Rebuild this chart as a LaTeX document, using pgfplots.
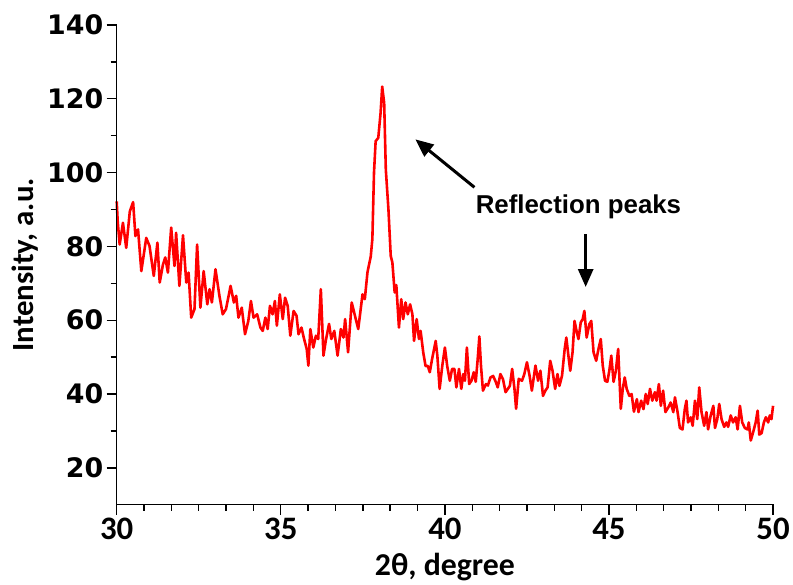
\documentclass[border=0pt]{standalone}
\usepackage{fontspec}
\usepackage{pgfplots}
\pgfplotsset{compat=1.18}
\usetikzlibrary{arrows.meta}
\setmainfont{Carlito}
\newfontfamily\dejavu{DejaVu Sans}
\newfontfamily\arialf{Liberation Sans}
\begin{document}
\begin{tikzpicture}
\begin{axis}[
  name=ax,
  scale only axis, width=658bp, height=481bp,
  xmin=30, xmax=50, ymin=10, ymax=140,
  axis line style={draw=none},
  xtick={30,35,...,50}, ytick={20,40,...,140},
  minor x tick num=5, minor y tick num=1,
  xtick pos=bottom, ytick pos=left,
  tick align=outside,
  major tick length=10bp, minor tick length=6bp,
  every tick/.style={line width=1.4bp,black},
  /pgf/number format/assume math mode=true,
  xticklabel style={font=\fontsize{33}{33}\selectfont\bfseries},
  yticklabel style={font=\dejavu\fontsize{27}{27}\selectfont\bfseries},
  xlabel={2θ, degree},
  ylabel={Intensity, a.u.},
  xlabel style={font=\fontsize{32}{32}\selectfont\bfseries, yshift=-6bp},
  ylabel style={font=\fontsize{31}{31}\selectfont\bfseries, yshift=2bp},
  clip=false,
]
\addplot[color={rgb,255:red,255;green,0;blue,0}, line width=2.6bp, line join=round, no marks] coordinates {
(30.00,92.2)(30.03,86.8)(30.09,80.5)(30.19,86.4)(30.29,79.6)(30.40,89.5)(30.50,92.0)(30.57,82.8)(30.65,84.6)(30.75,73.3)
(30.90,82.3)(31.00,80.1)(31.13,72.0)(31.24,81.0)(31.31,70.2)(31.41,75.1)(31.48,77.0)(31.56,72.9)(31.66,85.1)(31.76,74.7)
(31.81,83.7)(31.91,69.3)(32.02,83.0)(32.12,70.2)(32.19,72.9)(32.27,60.7)(32.37,63.0)(32.45,80.5)(32.55,63.4)(32.65,73.3)
(32.76,64.3)(32.83,68.4)(32.90,64.8)(33.01,73.8)(33.13,66.6)(33.23,61.6)(33.33,63.0)(33.47,69.3)(33.57,64.8)(33.64,66.6)
(33.71,60.7)(33.81,63.4)(33.91,56.2)(34.01,59.8)(34.09,65.2)(34.17,60.7)(34.28,61.6)(34.38,58.0)(34.45,57.1)(34.53,60.7)
(34.60,57.6)(34.67,63.9)(34.75,61.6)(34.82,65.2)(34.88,58.5)(34.97,67.0)(35.06,60.3)(35.13,66.1)(35.21,63.9)(35.29,55.8)
(35.39,62.5)(35.48,61.2)(35.54,56.2)(35.63,58.0)(35.71,54.9)(35.79,52.2)(35.84,47.7)(35.90,57.6)(35.99,52.6)(36.07,55.8)
(36.14,54.9)(36.22,68.4)(36.30,50.4)(36.37,54.4)(36.47,59.0)(36.54,54.9)(36.63,57.1)(36.73,50.4)(36.83,57.6)(36.91,55.3)
(36.96,60.3)(37.05,51.3)(37.16,64.8)(37.26,61.2)(37.36,57.6)(37.49,67.0)(37.56,65.7)(37.64,72.9)(37.69,75.1)(37.74,77.2)
(37.79,82.0)(37.84,100.0)(37.89,108.5)(37.97,109.4)(38.04,116.1)(38.09,123.3)(38.15,118.8)(38.20,100.8)(38.28,90.0)(38.35,77.4)
(38.40,75.6)(38.47,67.5)(38.52,69.5)(38.60,58.0)(38.67,65.7)(38.73,60.3)(38.80,64.8)(38.87,61.6)(38.94,64.3)(39.01,61.6)
(39.06,54.4)(39.14,60.3)(39.21,54.9)(39.26,57.1)(39.34,51.3)(39.41,47.6)(39.48,47.6)(39.54,45.9)(39.61,49.5)(39.72,54.4)
(39.77,50.4)(39.84,41.4)(39.92,47.6)(40.00,52.6)(40.07,47.6)(40.15,43.6)(40.22,46.8)(40.29,46.8)(40.35,41.8)(40.43,46.8)
(40.50,41.4)(40.56,45.4)(40.61,43.6)(40.67,52.6)(40.74,42.7)(40.81,43.6)(40.88,45.9)(40.94,43.3)(41.00,49.5)(41.05,55.6)
(41.10,47.6)(41.16,40.9)(41.25,42.7)(41.31,42.3)(41.39,44.5)(41.47,44.9)(41.55,43.3)(41.61,41.8)(41.69,45.4)(41.77,44.0)
(41.85,40.5)(41.98,42.2)(42.05,46.8)(42.12,41.4)(42.17,36.0)(42.25,44.1)(42.35,43.6)(42.42,45.4)(42.50,48.6)(42.58,45.0)
(42.65,40.9)(42.76,47.7)(42.84,43.6)(42.91,46.3)(42.99,39.5)(43.06,40.9)(43.13,41.8)(43.21,49.0)(43.28,46.3)(43.36,41.4)
(43.43,45.4)(43.49,42.2)(43.57,45.0)(43.65,52.2)(43.70,55.3)(43.77,49.9)(43.82,46.3)(43.89,51.3)(43.95,59.8)(44.02,56.7)
(44.07,54.9)(44.14,59.4)(44.20,60.3)(44.25,62.5)(44.32,55.3)(44.40,58.9)(44.46,59.8)(44.53,51.3)(44.61,49.0)(44.68,52.2)
(44.75,54.9)(44.81,47.7)(44.88,43.6)(44.95,43.3)(45.01,46.3)(45.07,50.4)(45.14,43.3)(45.21,46.3)(45.28,52.2)(45.36,36.0)
(45.42,41.4)(45.48,44.5)(45.54,41.4)(45.62,39.5)(45.69,40.0)(45.76,35.2)(45.85,38.6)(45.90,35.1)(45.98,38.2)(46.05,35.9)
(46.12,40.0)(46.18,37.3)(46.25,41.4)(46.32,38.2)(46.40,40.5)(46.45,38.2)(46.52,42.7)(46.58,36.8)(46.65,40.9)(46.72,35.1)
(46.81,36.4)(46.88,37.7)(46.96,35.1)(47.01,39.1)(47.09,35.1)(47.16,30.8)(47.24,30.4)(47.31,35.9)(47.36,38.2)(47.41,32.3)
(47.49,33.7)(47.55,31.4)(47.62,38.2)(47.69,33.2)(47.75,41.8)(47.82,35.1)(47.90,31.4)(47.97,35.1)(48.02,30.4)(48.10,34.2)
(48.18,36.8)(48.23,30.8)(48.30,33.2)(48.36,37.3)(48.43,33.2)(48.51,31.1)(48.58,32.3)(48.63,31.1)(48.71,34.2)(48.78,32.3)
(48.86,33.7)(48.92,30.4)(48.99,36.8)(49.06,32.3)(49.14,30.8)(49.22,30.4)(49.26,32.3)(49.32,27.4)(49.40,29.9)(49.47,32.3)
(49.53,35.5)(49.58,29.0)(49.65,29.4)(49.72,32.3)(49.78,33.7)(49.85,32.3)(49.90,34.2)(49.95,33.2)(50.00,36.8)
};
\draw[line width=1.4bp, line cap=rect] (rel axis cs:0,1) -- (rel axis cs:0,0) -- (rel axis cs:1,0);
\draw[line width=3bp, -{Triangle[length=18bp,width=15bp]}] (axis cs:40.90,96.0) -- (axis cs:39.10,109.0);
\draw[line width=3bp, -{Triangle[length=18bp,width=15bp]}] (axis cs:44.29,83.3) -- (axis cs:44.29,69.0);
\node[font=\arialf\fontsize{26}{26}\selectfont\bfseries] at (axis cs:44.07,90.8) {Reflection peaks};
\end{axis}
\path ([shift={(-117bp,-80bp)}]ax.south west) rectangle ([shift={(18bp,25bp)}]ax.north east);
\end{tikzpicture}
\end{document}
